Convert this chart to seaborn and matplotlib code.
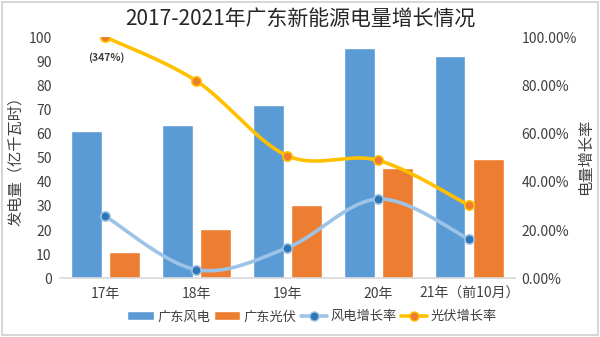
import numpy as np
import pandas as pd
import matplotlib
matplotlib.use("Agg")
import matplotlib.pyplot as plt
import seaborn as sns
from matplotlib.patches import Patch, Rectangle
from matplotlib.lines import Line2D
from matplotlib.ticker import FuncFormatter

categories = ["17年", "18年", "19年", "20年", "21年（前10月）"]
wind_gen = [61.1, 63.4, 72.0, 95.3, 92.0]
solar_gen = [10.8, 20.3, 30.6, 45.8, 49.6]
wind_growth = [25.7, 3.6, 12.7, 32.9, 16.2]
solar_growth = [100.0, 81.8, 50.8, 48.9, 30.2]
solar_first_label = "(347%)"

sns.set_theme(style="white")
plt.rcParams['font.family'] = ['Noto Sans CJK SC', 'DejaVu Sans']

C_WIND = "#5B9BD5"
C_SOLAR = "#ED7D31"
C_WLINE = "#9DC3E6"
C_WMARK = "#2E75B6"
C_SLINE = "#FFC000"

fig = plt.figure(figsize=(6, 3.37), dpi=100)
ax = fig.add_axes([0.1, 0.174, 0.758, 0.716])

df = pd.DataFrame({
    "cat": categories * 2,
    "val": wind_gen + solar_gen,
    "series": ["广东风电"] * 5 + ["广东光伏"] * 5,
})
sns.barplot(data=df, x="cat", y="val", hue="series", order=categories,
            palette=[C_WIND, C_SOLAR], width=0.84, gap=0.2, ax=ax,
            legend=False, saturation=1)
ax.set_xlim(-0.5, 4.5)
ax.set_ylim(0, 100)
ax.set_yticks(range(0, 101, 10))
ax.set_xlabel("")
ax.set_ylabel("发电量（亿千瓦时）", fontsize=11, color="#404040", labelpad=3)
ax.tick_params(axis="both", length=0, labelsize=10, colors="#404040", pad=6)
for s in ["top", "right", "left"]:
    ax.spines[s].set_visible(False)
ax.spines["bottom"].set_color("#d9d9d9")
ax.spines["bottom"].set_linewidth(1.2)

ax2 = ax.twinx()
ax2.set_ylim(0, 100)
ax2.set_yticks(range(0, 101, 20))
ax2.yaxis.set_major_formatter(FuncFormatter(lambda v, p: f"{v:.2f}%"))
ax2.tick_params(axis="y", length=0, labelsize=10, colors="#404040", pad=5)
for s in ["top", "right", "left", "bottom"]:
    ax2.spines[s].set_visible(False)
fig.text(586 / 600, 1 - 157 / 337, "电量增长率", fontsize=11, color="#404040",
         rotation=90, ha="center", va="center")


def smooth(xs, ys, n=40):
    xs = np.asarray(xs, float); ys = np.asarray(ys, float)
    px = np.concatenate([[xs[0]], xs, [xs[-1]]])
    py = np.concatenate([[ys[0]], ys, [ys[-1]]])
    ox, oy = [], []
    t = np.linspace(0, 1, n)
    for i in range(1, len(px) - 2):
        p0 = np.array([px[i], py[i]]); p3 = np.array([px[i + 1], py[i + 1]])
        c1 = p0 + (np.array([px[i + 1], py[i + 1]]) - np.array([px[i - 1], py[i - 1]])) / 6
        c2 = p3 - (np.array([px[i + 2], py[i + 2]]) - np.array([px[i], py[i]])) / 6
        b = ((1 - t) ** 3)[:, None] * p0 + (3 * (1 - t) ** 2 * t)[:, None] * c1 \
            + (3 * (1 - t) * t ** 2)[:, None] * c2 + (t ** 3)[:, None] * p3
        ox.extend(b[:, 0]); oy.extend(b[:, 1])
    return np.array(ox), np.array(oy)


xpos = np.arange(len(categories))
for vals, lc, mc, me in [(wind_growth, C_WLINE, C_WMARK, C_WLINE),
                         (solar_growth, C_SLINE, C_SOLAR, C_SLINE)]:
    sx, sy = smooth(xpos, vals)
    sns.lineplot(x=sx, y=sy, ax=ax2, color=lc, lw=2.6, sort=False,
                 estimator=None, legend=False)
    sns.scatterplot(x=xpos, y=vals, ax=ax2, color=mc, s=45, edgecolor=me,
                    linewidth=1.2, zorder=5, legend=False)

ax2.text(0.01, 91.5, solar_first_label, fontsize=7.5, fontweight="bold",
         ha="center", va="center", color="#404040")

fig.suptitle("2017-2021年广东新能源电量增长情况", y=0.975, fontsize=15, color="#262626")

handles = [
    Patch(facecolor=C_WIND, label="广东风电"),
    Patch(facecolor=C_SOLAR, label="广东光伏"),
    Line2D([], [], color=C_WLINE, lw=2.6, marker="o", markersize=6.5,
           markerfacecolor=C_WMARK, markeredgecolor=C_WLINE, label="风电增长率"),
    Line2D([], [], color=C_SLINE, lw=2.6, marker="o", markersize=6.5,
           markerfacecolor=C_SOLAR, markeredgecolor=C_SLINE, label="光伏增长率"),
]
fig.legend(handles=handles, loc="center", bbox_to_anchor=(0.52, 0.06), ncol=4,
           frameon=False, fontsize=9.5, handlelength=2.0, handleheight=0.6,
           columnspacing=0.3, handletextpad=0.25, labelcolor="#404040")

fig.add_artist(Rectangle((0.004, 0.006), 0.992, 0.988, transform=fig.transFigure,
                         fill=False, edgecolor="#d0d0d0", lw=1.2))

fig.savefig("out.png", dpi=100)
